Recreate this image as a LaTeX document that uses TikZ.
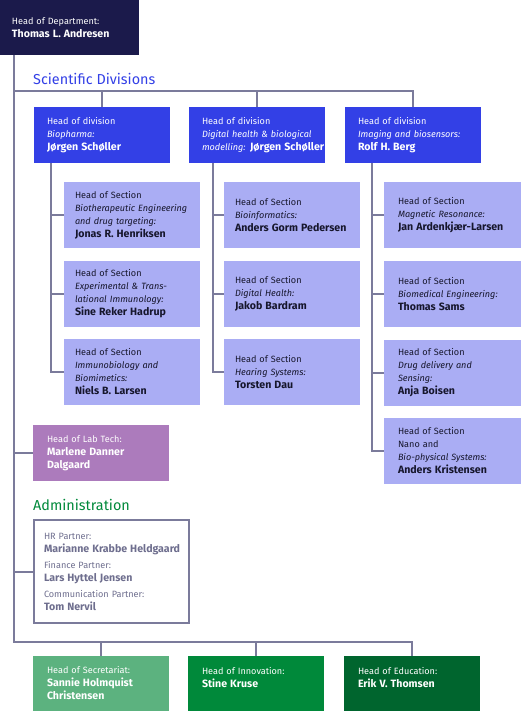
\documentclass[tikz,border=0pt]{standalone}
\usepackage{fontspec}
\setmainfont{Fira Sans}

\definecolor{deptnavy}{HTML}{1B1A4B}
\definecolor{divblue}{HTML}{3340E6}
\definecolor{secblue}{HTML}{AAADF4}
\definecolor{sectext}{HTML}{16162C}
\definecolor{linegray}{HTML}{7B7B9B}
\definecolor{labpurple}{HTML}{AC7BBC}
\definecolor{admgreen}{HTML}{00893A}
\definecolor{admtext}{HTML}{6E6E8E}
\definecolor{secrgreen}{HTML}{5CB27F}
\definecolor{innogreen}{HTML}{00893A}
\definecolor{edugreen}{HTML}{00652E}

\newcommand\pname[1]{{\fontsize{10.6}{13}\selectfont\bfseries #1}}

\tikzset{
  unit/.style={anchor=north west, align=left, outer sep=0pt, inner ysep=0pt,
    font=\fontsize{9.1}{13}\selectfont},
  headbox/.style={unit, fill=deptnavy, text=white, text width=115, inner xsep=12, minimum height=55},
  divbox/.style={unit, fill=divblue, text=white, text width=110, inner xsep=13, minimum height=56},
  secbox/.style={unit, fill=secblue, text=sectext, text width=114, inner xsep=11, minimum height=66},
  labbox/.style={unit, fill=labpurple, text=white, text width=108, inner xsep=14, minimum height=56},
  admbox/.style={unit, draw=linegray, line width=2, fill=white, text=admtext, text width=135, inner xsep=10, minimum height=103},
  botbox/.style={unit, text=white, text width=108, inner xsep=14, minimum height=55},
  grouptitle/.style={anchor=west, inner sep=0pt, font=\fontsize{14.4}{14}\selectfont},
  conn/.style={draw=linegray, line width=2}
}

\begin{document}
\begin{tikzpicture}[x=1pt,y=-1pt]
\useasboundingbox (0,0) rectangle (520,711);

% department head
\node[headbox] (head) at (0,0) {Head of Department:\\\pname{Thomas L. Andresen}};

% scientific divisions
\node[grouptitle, text=divblue] (scititle) at (33,79) {Scientific Divisions};
\node[divbox] (div1) at (34,107) {Head of division\\\textit{Biopharma:}\\\pname{Jørgen Schøller}};
\node[divbox] (div2) at (189,107) {Head of division\\\textit{Digital health \& biological}\\\mbox{\textit{modelling:} \pname{Jørgen Schøller}}};
\node[divbox] (div3) at (345,107) {Head of division\\\textit{Imaging and biosensors:}\\\pname{Rolf H. Berg}};

% sections
\node[secbox] (sec11) at (64,182) {Head of Section\\\textit{Biotherapeutic Engineering}\\\textit{and drug targeting:}\\\pname{Jonas R. Henriksen}};
\node[secbox] (sec12) at (64,261) {Head of Section\\\textit{Experimental \& Trans-}\\\textit{lational Immunology:}\\\pname{Sine Reker Hadrup}};
\node[secbox] (sec13) at (64,339) {Head of Section\\\textit{Immunobiology and}\\\textit{Biomimetics:}\\\pname{Niels B. Larsen}};

\node[secbox] (sec21) at (224,182) {Head of Section\\\textit{Bioinformatics:}\\\pname{Anders Gorm Pedersen}};
\node[secbox] (sec22) at (224,261) {Head of Section\\\textit{Digital Health:}\\\pname{Jakob Bardram}};
\node[secbox] (sec23) at (224,339) {Head of Section\\\textit{Hearing Systems:}\\\pname{Torsten Dau}};

% right column runs off the page edge
\node[secbox, inner xsep=14] (sec31) at (384,182) {Head of Section\\\textit{Magnetic Resonance:}\\\pname{Jan Ardenkjær-Larsen}};
\node[secbox, inner xsep=14] (sec32) at (384,261) {Head of Section\\\textit{Biomedical Engineering:}\\\pname{Thomas Sams}};
\node[secbox, inner xsep=14] (sec33) at (384,340) {Head of Section\\\textit{Drug delivery and}\\\textit{Sensing:}\\\pname{Anja Boisen}};
\node[secbox, inner xsep=14] (sec34) at (384,418) {Head of Section\\Nano and\\\textit{Bio-physical Systems:}\\\pname{Anders Kristensen}};

% lab tech
\node[labbox] (lab) at (33,425) {Head of Lab Tech:\\\pname{Marlene Danner}\\\pname{Dalgaard}};

% administration
\node[grouptitle, text=admgreen] (admtitle) at (33,505) {Administration};
\node[admbox] (adm) at (34,520) {HR Partner:\\\mbox{\pname{Marianne Krabbe Heldgaard}}\\[3pt]
  Finance Partner:\\\pname{Lars Hyttel Jensen}\\[3pt]
  Communication Partner:\\\pname{Tom Nervil}};

% bottom row
\node[botbox, fill=secrgreen] (secr) at (33,656) {Head of Secretariat:\\\pname{Sannie Holmquist}\\\pname{Christensen}};
\node[botbox, fill=innogreen] (inno) at (188,656) {Head of Innovation:\\\pname{Stine Kruse}\\\mbox{}};
\node[botbox, fill=edugreen] (edu) at (344,656) {Head of Education:\\\pname{Erik V. Thomsen}\\\mbox{}};

% connectors
\coordinate (trunk) at ([xshift=14]head.south west);
\coordinate (scibus) at (14,91);
\coordinate (botbus) at (14,642);
\draw[conn] (trunk) -- (botbus) -| (edu.north);
\foreach \b in {secr,inno} \draw[conn] (\b.north) -- (\b.north |- botbus);
\draw[conn] (scibus) -| (div3.north);
\foreach \d in {div1,div2} \draw[conn] (\d.north) -- (\d.north |- scibus);
\draw[conn] (lab.west) -- (lab.west -| trunk);
\draw[conn] (adm.west) -- (adm.west -| trunk);

\coordinate (v1) at ([xshift=17]div1.south west);
\coordinate (v2) at ([xshift=24]div2.south west);
\coordinate (v3) at ([xshift=27]div3.south west);
\foreach \v/\last/\others in {v1/sec13/{sec11,sec12},v2/sec23/{sec21,sec22},v3/sec34/{sec31,sec32,sec33}}{
  \draw[conn] (\v) |- (\last.west);
  \foreach \s in \others \draw[conn] (\s.west) -- (\s.west -| \v);
}
\end{tikzpicture}
\end{document}
